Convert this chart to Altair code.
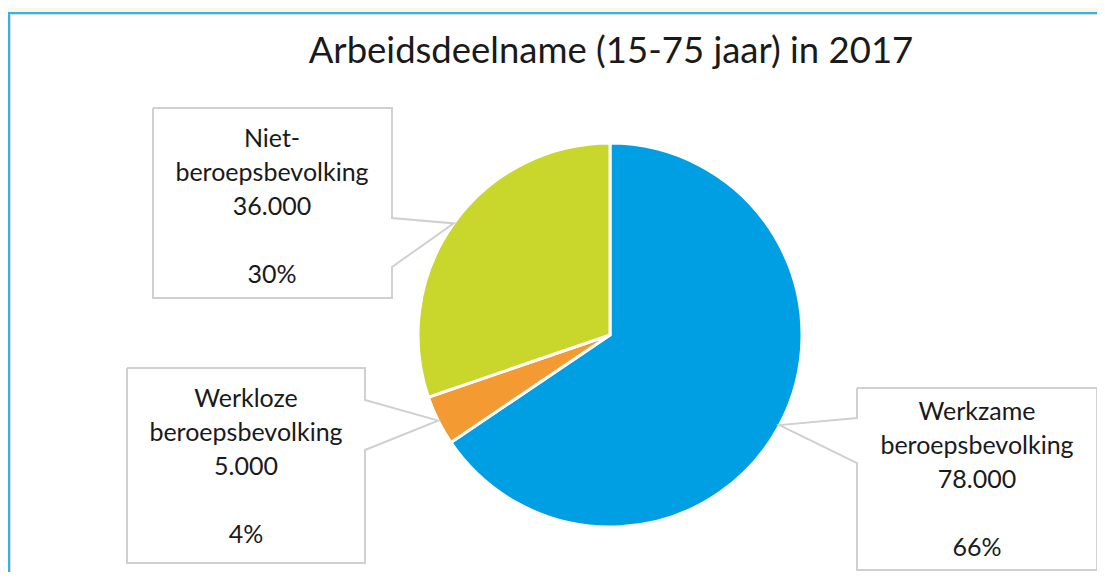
import math
import altair as alt
import pandas as pd

# ---- data ----
categories = ["Werkzame beroepsbevolking", "Werkloze beroepsbevolking", "Niet-beroepsbevolking"]
label_lines = [["Werkzame", "beroepsbevolking"], ["Werkloze", "beroepsbevolking"], ["Niet-", "beroepsbevolking"]]
values = [78000, 5000, 36000]
value_labels = ["78.000", "5.000", "36.000"]
colors = ["#009FE3", "#F39A32", "#C9D62C"]
title_text = "Arbeidsdeelname (15-75 jaar) in 2017"

# ---- layout (pixels, chart coordinates) ----
W, H = 1089, 564
CX, CY, R = 602, 327, 192
FONT = "Lato"
LH = 34
boxes = [
    dict(l=849, r=1089, t=380, b=562, j1=410, j2=455, side="left", tx=969, ty=412),
    dict(l=119, r=357, t=360, b=555, j1=392, j2=442, side="right", tx=238, ty=399),
    dict(l=145, r=384, t=100, b=290, j1=210, j2=259, side="right", tx=264, ty=139),
]

total = sum(values)
pct = [f"{round(v / total * 100)}%" for v in values]

pie_df = pd.DataFrame({"category": categories, "value": values, "idx": list(range(len(values)))})

cum = 0
tips = []
for v in values:
    mid = (cum + v / 2) / total * 2 * math.pi
    cum += v
    tips.append((CX + R * math.sin(mid), CY - R * math.cos(mid)))

rows = []
for i, b in enumerate(boxes):
    tx, ty = tips[i]
    if b["side"] == "right":
        pts = [(b["l"], b["t"]), (b["r"], b["t"]), (b["r"], b["j1"]), (tx, ty),
               (b["r"], b["j2"]), (b["r"], b["b"]), (b["l"], b["b"]), (b["l"], b["t"])]
    else:
        pts = [(b["l"], b["t"]), (b["r"], b["t"]), (b["r"], b["b"]), (b["l"], b["b"]),
               (b["l"], b["j2"]), (tx, ty), (b["l"], b["j1"]), (b["l"], b["t"])]
    for k, (px, py) in enumerate(pts):
        rows.append({"box": i, "ord": k, "px": px, "py": py})
outline_df = pd.DataFrame(rows)

text_rows = []
for i, b in enumerate(boxes):
    text_rows.append({"label": "\n".join(label_lines[i] + [value_labels[i]]), "px": b["tx"], "py": b["ty"]})
    text_rows.append({"label": pct[i], "px": b["tx"], "py": b["ty"] + 4 * LH})
text_df = pd.DataFrame(text_rows)

panel = alt.Chart(pd.DataFrame({"a": [0]})).mark_rect(
    fill="white", stroke="#2BB6E9", strokeWidth=2
).encode(x=alt.value(1), x2=alt.value(1200), y=alt.value(5), y2=alt.value(700))

panel_inner = alt.Chart(pd.DataFrame({"a": [0]})).mark_rect(
    fill="white", stroke="#DADADA", strokeWidth=1
).encode(x=alt.value(2.5), x2=alt.value(1200), y=alt.value(6.5), y2=alt.value(700))

pie = alt.Chart(pie_df).mark_arc(outerRadius=R, stroke="white", strokeWidth=3).encode(
    theta=alt.Theta("value:Q", stack=True),
    order=alt.Order("idx:Q"),
    color=alt.Color("category:N", scale=alt.Scale(domain=categories, range=colors), legend=None),
    x=alt.value(CX),
    y=alt.value(CY),
)

outline = alt.Chart(outline_df).mark_line(color="#D0D0D0", strokeWidth=2).encode(
    x=alt.X("px:Q", scale=None, axis=None),
    y=alt.Y("py:Q", scale=None, axis=None),
    detail="box:N",
    order="ord:Q",
)

labels = alt.Chart(text_df).mark_text(
    font=FONT, fontSize=25, lineBreak="\n", lineHeight=LH, align="center",
    baseline="alphabetic", color="#1A1A1A"
).encode(
    x=alt.X("px:Q", scale=None, axis=None),
    y=alt.Y("py:Q", scale=None, axis=None),
    text="label:N",
)

title = alt.Chart(pd.DataFrame({"t": [title_text]})).mark_text(
    font=FONT, fontSize=36.5, align="center", baseline="alphabetic", color="#1A1A1A"
).encode(x=alt.value(603), y=alt.value(55), text="t:N")

chart = alt.layer(panel, panel_inner, pie, outline, labels, title).properties(
    width=W, height=H, padding=0,
    autosize=alt.AutoSizeParams(type="fit", contains="padding"),
    background="#F9F8E2",
).configure_view(stroke=None)

chart.save("out.html", embed_options={"renderer": "svg", "actions": False})
